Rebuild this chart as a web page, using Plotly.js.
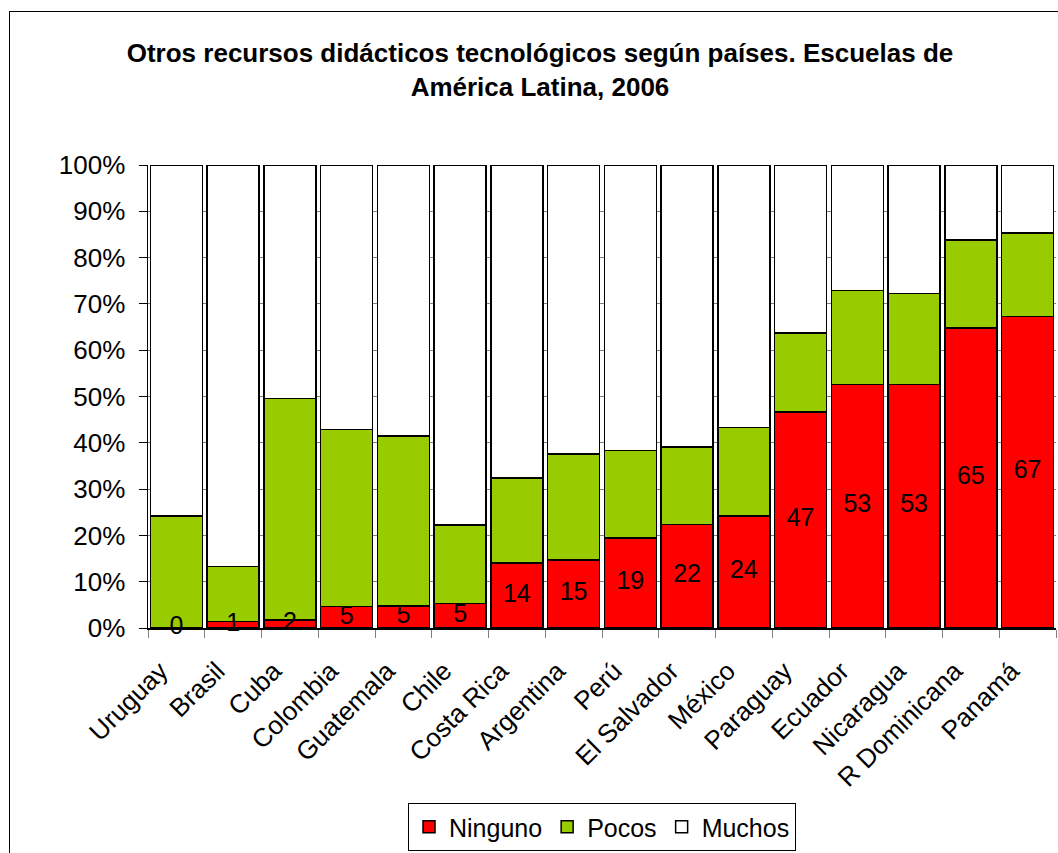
<!DOCTYPE html>
<html>
<head>
<meta charset="utf-8">
<script src="https://cdn.plot.ly/plotly-3.0.1.min.js"></script>
<style>
  html, body { margin: 0; padding: 0; background: #fff; overflow: hidden; }
  #chart { width: 1058px; height: 853px; }
  #frame { position: absolute; left: 9px; top: 11px; width: 1200px; height: 1000px;
           border: 1px solid #000; pointer-events: none; }
</style>
</head>
<body>
<div id="chart"></div>
<div id="frame"></div>
<script>
const countries = ["Uruguay","Brasil","Cuba","Colombia","Guatemala","Chile","Costa Rica","Argentina","Perú","El Salvador","México","Paraguay","Ecuador","Nicaragua","R Dominicana","Panamá"];
const ninguno = [0, 1.4, 1.7, 4.6, 4.8, 5.3, 14.0, 14.7, 19.4, 22.4, 24.2, 46.6, 52.6, 52.6, 64.8, 67.3];
const pocos   = [24.2, 11.9, 47.9, 38.3, 36.7, 16.9, 18.4, 22.9, 18.9, 16.7, 19.1, 17.1, 20.3, 19.6, 19.0, 18.0];
const muchos  = [75.8, 86.7, 50.4, 57.1, 58.5, 77.8, 67.6, 62.4, 61.7, 60.9, 56.7, 36.3, 27.1, 27.8, 16.2, 14.7];
const seriesNames = ["Ninguno", "Pocos", "Muchos"];
const seriesColors = ["#ff0000", "#99cc00", "#ffffff"];

const FONT = "Liberation Sans, Arial, sans-serif";
const line = { color: "#000000", width: 1.5 };

const traces = [ninguno, pocos, muchos].map((vals, i) => ({
  type: "bar",
  name: seriesNames[i],
  x: countries,
  y: vals,
  marker: { color: seriesColors[i], line: line },
  hoverinfo: "x+y+name"
}));

traces.push({
  type: "scatter",
  mode: "text",
  x: countries,
  y: ninguno.map(v => v / 2),
  text: ninguno.map(v => String(Math.round(v))),
  textposition: "middle center",
  textfont: { family: FONT, size: 25, color: "#000" },
  showlegend: false,
  cliponaxis: false,
  hoverinfo: "skip"
});

const layout = {
  width: 1058,
  height: 853,
  paper_bgcolor: "#ffffff",
  plot_bgcolor: "#ffffff",
  barmode: "stack",
  bargap: 0.08,
  margin: { l: 148, r: 2, t: 165, b: 225 },
  font: { family: FONT, color: "#000" },
  title: {
    text: "<b>Otros recursos didácticos tecnológicos según países. Escuelas de<br>América Latina, 2006</b>",
    font: { family: FONT, size: 26, color: "#000" },
    x: 540 / 1058,
    xanchor: "center",
    xref: "container",
    y: 1 - 62 / 853,
    yref: "container",
    yanchor: "top"
  },
  xaxis: {
    type: "category",
    range: [-0.5, countries.length - 0.5],
    autorange: false,
    tickangle: -45,
    tickfont: { family: FONT, size: 26, color: "#000" },
    ticklabelstandoff: 16,
    ticklabelshift: -16,
    showline: true,
    linecolor: "#000",
    linewidth: 1.5,
    ticks: "outside",
    tickson: "boundaries",
    ticklen: 8,
    tickcolor: "#808080",
    showgrid: false,
    zeroline: false,
    automargin: false
  },
  yaxis: {
    range: [0, 100],
    autorange: false,
    dtick: 10,
    ticksuffix: "%",
    tickfont: { family: FONT, size: 26, color: "#000" },
    showline: true,
    linecolor: "#000",
    linewidth: 1.5,
    ticks: "outside",
    ticklen: 8,
    tickcolor: "#000",
    ticklabelstandoff: 8,
    showgrid: true,
    gridcolor: "#808080",
    gridwidth: 1,
    zeroline: false,
    automargin: false
  },
  legend: {
    orientation: "h",
    x: 0.5,
    xanchor: "center",
    y: -(851 - 628) / 463,
    yanchor: "bottom",
    bordercolor: "#000",
    borderwidth: 1,
    bgcolor: "#fff",
    font: { family: FONT, size: 25, color: "#000" },
    traceorder: "normal",
    itemwidth: 30
  },
  showlegend: true
};

Plotly.newPlot("chart", traces, layout, { displayModeBar: false, staticPlot: true });
</script>
</body>
</html>
